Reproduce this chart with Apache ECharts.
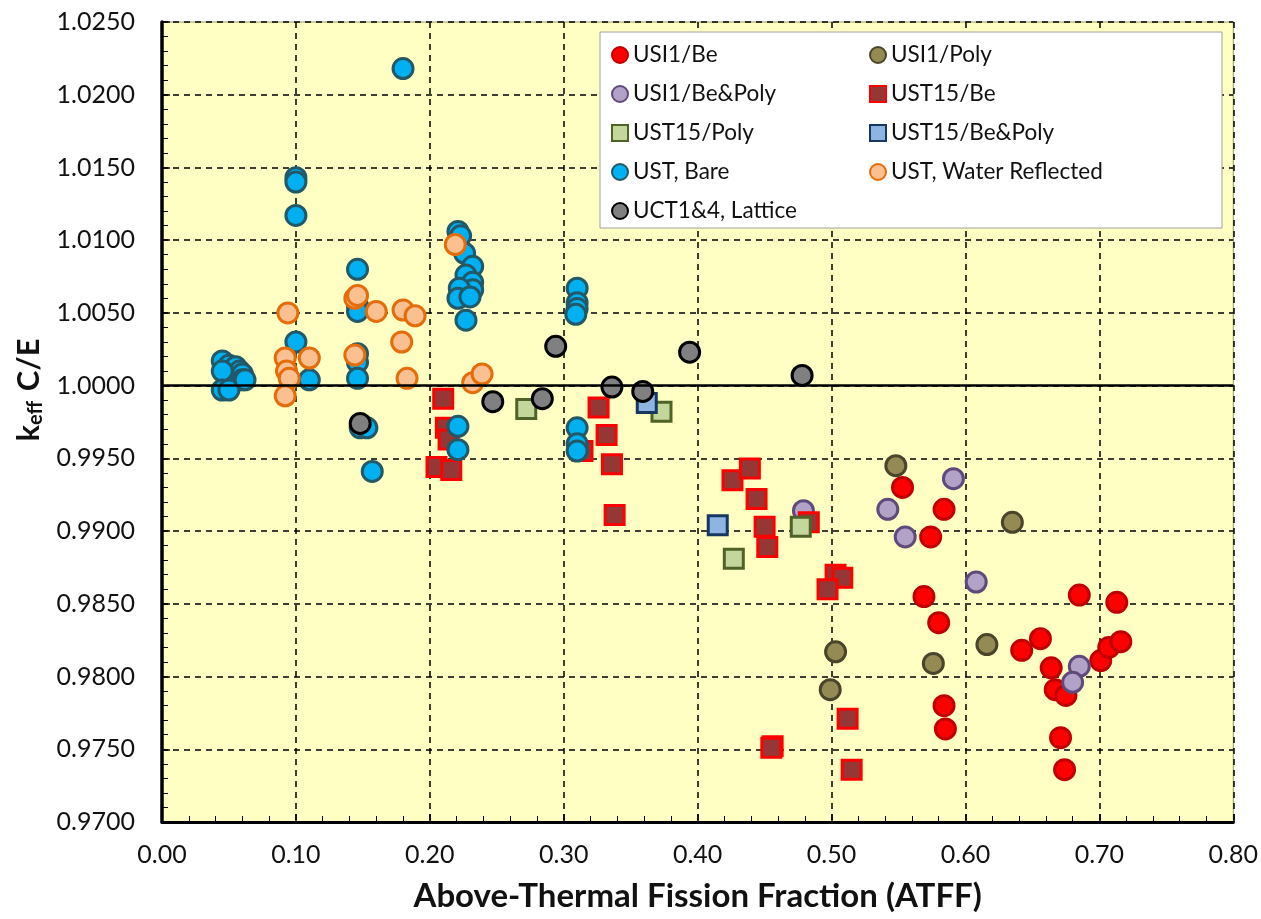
<!DOCTYPE html>
<html>
<head>
<meta charset="utf-8">
<script src="https://cdn.jsdelivr.net/npm/echarts@6/dist/echarts.min.js"></script>
<style>
  html, body { margin: 0; padding: 0; background: #fff; }
  #chart { width: 1261px; height: 919px; }
</style>
</head>
<body>
<div id="chart"></div>
<script>
// points are [ATFF, keff C/E]
var usi1Be = [
  [0.553, 0.9930], [0.584, 0.9915], [0.574, 0.9896], [0.569, 0.9855], [0.580, 0.9837],
  [0.584, 0.9780], [0.585, 0.9764], [0.685, 0.9856], [0.713, 0.9851], [0.656, 0.9826],
  [0.642, 0.9818], [0.664, 0.9806], [0.667, 0.9791], [0.675, 0.9787], [0.701, 0.9811],
  [0.707, 0.9820], [0.716, 0.9824], [0.671, 0.9758], [0.674, 0.9736]
];
var usi1Poly = [
  [0.548, 0.9945], [0.503, 0.9817], [0.499, 0.9791], [0.576, 0.9809], [0.635, 0.9906], [0.616, 0.9822]
];
var usi1BePoly = [
  [0.479, 0.9914], [0.542, 0.9915], [0.555, 0.9896], [0.591, 0.9936], [0.608, 0.9865],
  [0.685, 0.9807], [0.680, 0.9796]
];
var ust15Be = [
  [0.210, 0.9991], [0.212, 0.9971], [0.214, 0.9963], [0.205, 0.9944], [0.216, 0.9942],
  [0.326, 0.9985], [0.332, 0.9966], [0.314, 0.9955], [0.336, 0.9946], [0.338, 0.9911],
  [0.426, 0.9935], [0.439, 0.9943], [0.444, 0.9922], [0.450, 0.9903], [0.452, 0.9889],
  [0.483, 0.9906], [0.503, 0.9870], [0.508, 0.9868], [0.497, 0.9860], [0.512, 0.9771],
  [0.456, 0.9752], [0.455, 0.9751], [0.515, 0.9736]
];
var ust15Poly = [
  [0.272, 0.9984], [0.373, 0.9982], [0.427, 0.9881], [0.477, 0.9903]
];
var ust15BePoly = [
  [0.362, 0.9988], [0.415, 0.9904]
];
var ustBare = [
  [0.180, 1.0218], [0.100, 1.0143], [0.100, 1.0140], [0.100, 1.0117], [0.100, 1.0030],
  [0.221, 1.0106], [0.223, 1.0103], [0.226, 1.0091], [0.232, 1.0082], [0.227, 1.0076],
  [0.232, 1.0071], [0.232, 1.0066], [0.222, 1.0067], [0.221, 1.0060], [0.230, 1.0061],
  [0.227, 1.0045], [0.221, 0.9972], [0.221, 0.9956],
  [0.310, 1.0067], [0.310, 1.0057], [0.310, 1.0053], [0.309, 1.0049],
  [0.310, 0.9971], [0.310, 0.9960], [0.310, 0.9955],
  [0.146, 1.0080], [0.146, 1.0055], [0.146, 1.0051], [0.146, 1.0022], [0.146, 1.0016],
  [0.146, 1.0005], [0.148, 0.9971], [0.153, 0.9971], [0.157, 0.9941], [0.110, 1.0004],
  [0.045, 1.0017], [0.050, 1.0014], [0.055, 1.0013], [0.058, 1.0010], [0.060, 1.0008],
  [0.060, 1.0004], [0.045, 1.0010], [0.045, 0.9997], [0.050, 0.9997], [0.062, 1.0004]
];
var ustWater = [
  [0.094, 1.0050], [0.092, 1.0019], [0.093, 1.0010], [0.095, 1.0005], [0.092, 0.9993],
  [0.110, 1.0019], [0.144, 1.0060], [0.146, 1.0062], [0.144, 1.0021], [0.160, 1.0051],
  [0.180, 1.0052], [0.189, 1.0048], [0.179, 1.0030], [0.183, 1.0005], [0.219, 1.0097],
  [0.232, 1.0002], [0.239, 1.0008]
];
var uctLattice = [
  [0.148, 0.9974], [0.294, 1.0027], [0.247, 0.9989], [0.284, 0.9991], [0.336, 0.9999],
  [0.359, 0.9996], [0.394, 1.0023], [0.478, 1.0007]
];

var seriesDefs = [
  { name: 'USI1/Be', data: usi1Be, symbol: 'circle', fill: '#FF0000', edge: '#C00000' },
  { name: 'USI1/Poly', data: usi1Poly, symbol: 'circle', fill: '#948A54', edge: '#4A452A' },
  { name: 'USI1/Be&Poly', data: usi1BePoly, symbol: 'circle', fill: '#B3A2C7', edge: '#604A7B' },
  { name: 'UST15/Be', data: ust15Be, symbol: 'rect', fill: '#953735', edge: '#FF0000' },
  { name: 'UST15/Poly', data: ust15Poly, symbol: 'rect', fill: '#C3D69B', edge: '#4F6228' },
  { name: 'UST15/Be&Poly', data: ust15BePoly, symbol: 'rect', fill: '#8DB4E2', edge: '#17375E' },
  { name: 'UST, Bare', data: ustBare, symbol: 'circle', fill: '#00B0F0', edge: '#215968' },
  { name: 'UST, Water Reflected', data: ustWater, symbol: 'circle', fill: '#FAC090', edge: '#E46C0A' },
  { name: 'UCT1&4, Lattice', data: uctLattice, symbol: 'circle', fill: '#808080', edge: '#000000' }
];

var series = seriesDefs.map(function (s) {
  return {
    name: s.name,
    type: 'scatter',
    data: s.data,
    symbol: s.symbol,
    symbolSize: s.symbol === 'rect' ? 19 : 20,
    itemStyle: { color: s.fill, borderColor: s.edge, borderWidth: 3, opacity: 1 },
    emphasis: { disabled: true }
  };
});

// solid reference line at C/E = 1
series.push({
  type: 'line',
  data: [],
  silent: true,
  markLine: {
    symbol: 'none',
    silent: true,
    label: { show: false },
    lineStyle: { color: '#000', type: 'solid', width: 2.5 },
    data: [{ yAxis: 1.0 }]
  }
});

var fontFamily = 'Lato, "Open Sans", sans-serif';
var legendText = { fontSize: 22.5, color: '#111', fontFamily: fontFamily, lineHeight: 24 };

var chart = echarts.init(document.getElementById('chart'));
chart.setOption({
  animation: false,
  backgroundColor: '#fff',
  textStyle: { fontFamily: fontFamily },
  grid: {
    left: 162, right: 25, top: 22, bottom: 97,
    show: true, backgroundColor: '#FFFFC4', borderColor: '#9A9A60', borderWidth: 1
  },
  graphic: [{
    type: 'rect',
    shape: { x: 600, y: 32, width: 622, height: 196 },
    style: { fill: '#fff', stroke: '#A0A0A0', lineWidth: 1 },
    z: 5
  }],
  legend: [{
    orient: 'vertical', left: 606, top: 38, itemWidth: 16, itemHeight: 16, itemGap: 15,
    textStyle: legendText, z: 6,
    data: ['USI1/Be', 'USI1/Be&Poly', 'UST15/Poly', 'UST, Bare', 'UCT1&4, Lattice']
  }, {
    orient: 'vertical', left: 864, top: 38, itemWidth: 16, itemHeight: 16, itemGap: 15,
    textStyle: legendText, z: 6,
    data: ['USI1/Poly', 'UST15/Be', 'UST15/Be&Poly', 'UST, Water Reflected']
  }],
  xAxis: {
    type: 'value', min: 0, max: 0.8, interval: 0.1,
    name: 'Above-Thermal Fission Fraction (ATFF)',
    nameLocation: 'middle', nameGap: 58,
    nameTextStyle: { fontSize: 33, fontWeight: 'bold', color: '#111', fontFamily: fontFamily },
    axisLine: { show: true, onZero: false, lineStyle: { color: '#000', width: 3 } },
    axisTick: { show: true, inside: true, length: 8, lineStyle: { color: '#000', width: 1.5 } },
    minorTick: { show: true, splitNumber: 5, length: 6, lineStyle: { color: '#000', width: 1 } },
    axisLabel: {
      fontSize: 25, color: '#111', margin: 20,
      formatter: function (v) { return v.toFixed(2); }
    },
    splitLine: { show: true, lineStyle: { color: '#000', type: [6, 5], width: 1.5 } }
  },
  yAxis: {
    type: 'value', min: 0.97, max: 1.025, interval: 0.005,
    name: '{k|k}{s|eff}{k| C/E}',
    nameLocation: 'middle', nameGap: 116, nameRotate: 90,
    nameTextStyle: {
      padding: [0, 0, 0, 64],
      rich: {
        k: { fontSize: 31, fontWeight: 'bold', color: '#111', fontFamily: fontFamily },
        s: { fontSize: 20, fontWeight: 'bold', color: '#111', fontFamily: fontFamily, padding: [14, 2, 0, 0] }
      }
    },
    axisLine: { show: true, onZero: false, lineStyle: { color: '#000', width: 3.5 } },
    axisTick: { show: true, inside: true, length: 8, lineStyle: { color: '#000', width: 1.5 } },
    minorTick: { show: true, splitNumber: 5, length: 6, lineStyle: { color: '#000', width: 1 } },
    axisLabel: {
      fontSize: 25, color: '#111', margin: 27,
      formatter: function (v) { return v.toFixed(4); }
    },
    splitLine: { show: true, lineStyle: { color: '#000', type: [6, 5], width: 1.5 } }
  },
  series: series
});
</script>
</body>
</html>
